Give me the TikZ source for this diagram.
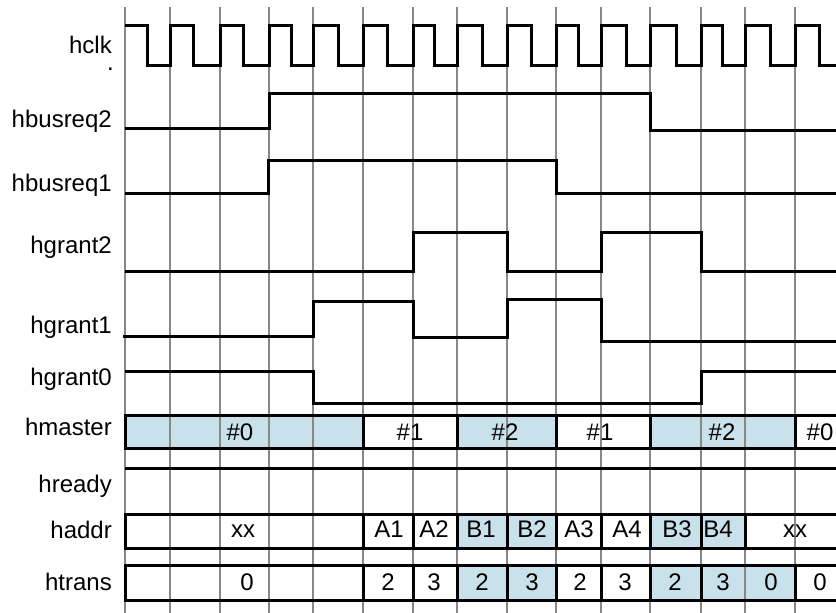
\documentclass[tikz,border=0pt]{standalone}
\usepackage{fontspec}
\setmainfont{Liberation Sans}
\definecolor{cellblue}{HTML}{C9E1EB}
\definecolor{gridgray}{HTML}{888888}

\begin{document}
\begin{tikzpicture}[
  x=1pt, y=-1pt,
  font={\fontsize{24}{28}\selectfont},
  sig/.style={draw=black, line width=3pt},
  gridline/.style={draw=gridgray, line width=2pt},
  signame/.style={anchor=base east, inner sep=0pt},
  busval/.style={anchor=base, inner sep=0pt}
]
\useasboundingbox (0,0) rectangle (836,613);

% shaded bus cells
\foreach \l/\r/\t/\b in {125/363/415/448, 457/556/415/448, 650/795/415/448,
    457/556/514/548, 650/745/514/548, 457/556/565/600, 650/795/565/600}
  \fill[cellblue] (\l,\t) rectangle (\r,\b);

% clock edges
\foreach \x in {125,170,220,269,313,363,413,457,507,556,601,650,701,745,795}
  \draw[gridline] (\x,7) -- (\x,613);

% signal names
\node[signame] (nClk) at (112,53) {hclk};
\node[signame] (nDot) at (114,70) {.};
\node[signame] (nReq2) at (112,127) {hbusreq2};
\node[signame] (nReq1) at (112,191) {hbusreq1};
\node[signame] (nGnt2) at (112,253) {hgrant2};
\node[signame] (nGnt1) at (112,333) {hgrant1};
\node[signame] (nGnt0) at (112,385) {hgrant0};
\node[signame] (nMaster) at (112,435) {hmaster};
\node[signame] (nReady) at (112,492) {hready};
\node[signame] (nAddr) at (112,538) {haddr};
\node[signame] (nTrans) at (112,590) {htrans};

% waveforms
\draw[sig] (125,25) \foreach \f/\b in {147/170,193/220,243/269,291/313,338/363,387/413,
    434/457,482/507,531/556,578/601,626/650,676/701,722/745,770/795}
  { -- (\f,25) -- (\f,65) -- (\b,65) -- (\b,25) } -- (819,25) -- (819,65) -- (836,65);
\draw[sig] (125,128) -- (269,128) -- (269,93) -- (650,93) -- (650,130) -- (836,130);
\draw[sig] (125,193) -- (268,193) -- (268,160) -- (556,160) -- (556,193) -- (836,193);
\draw[sig] (125,271) -- (413,271) -- (413,232) -- (507,232) -- (507,271)
  -- (601,271) -- (601,232) -- (701,232) -- (701,271) -- (836,271);
\draw[sig] (123,336) -- (313,336) -- (313,301) -- (413,301) -- (413,337)
  -- (507,337) -- (507,299) -- (601,299) -- (601,341) -- (836,341);
\draw[sig] (125,371) -- (313,371) -- (313,403) -- (701,403) -- (701,371) -- (836,371);
\draw[sig] (125,468) -- (836,468);

% bus cells
\foreach \l/\r in {125/363,363/457,457/556,556/650,650/795,795/845}
  \draw[sig] (\l,415) rectangle (\r,448);
\foreach \l/\r in {125/363,363/413,413/457,457/507,507/556,556/601,601/650,650/701,701/745,745/845}
  \draw[sig] (\l,514) rectangle (\r,548);
\foreach \l/\r in {125/363,363/413,413/457,457/507,507/556,556/601,601/650,650/701,701/795,795/845}
  \draw[sig] (\l,565) rectangle (\r,600);

% bus values
\foreach \x/\v [count=\i] in {240/\#0,410/\#1,505/\#2,600/\#1,722/\#2,820/\#0}
  \node[busval] (m\i) at (\x,440) {\v};
\foreach \x/\v [count=\i] in {243/xx,389/A1,434/A2,481/B1,532/B2,579/A3,627/A4,677/B3,718/B4,795/xx}
  \node[busval] (a\i) at (\x,537.5) {\v};
\foreach \x/\v [count=\i] in {247/0,388/2,434/3,482/2,532/3,580/2,625/3,675/2,723/3,771/0,820/0}
  \node[busval] (t\i) at (\x,590.5) {\v};

\end{tikzpicture}
\end{document}
